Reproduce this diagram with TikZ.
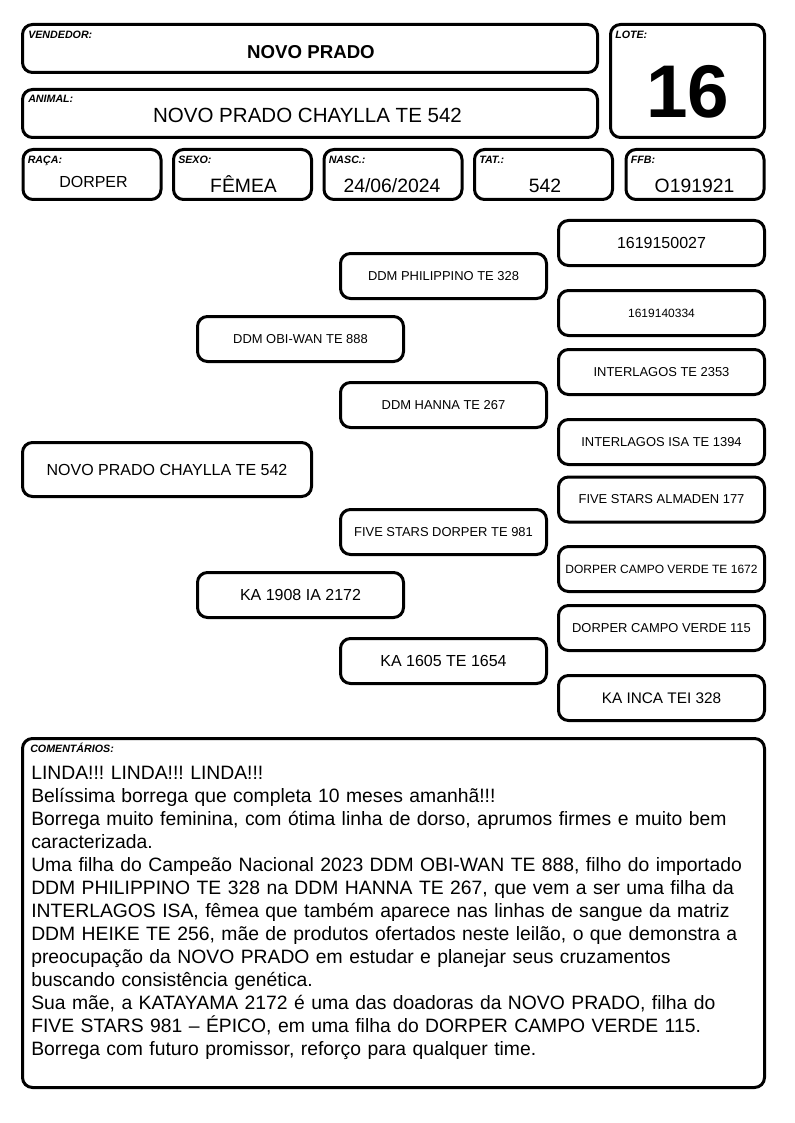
\documentclass[tikz,border=0pt]{standalone}
\usepackage{fontspec}
\setmainfont{Liberation Sans}
\usetikzlibrary{positioning}

\tikzset{
  box/.style={draw, line width=2.25pt, rounded corners=7.5pt, inner sep=0pt, align=center},
  tag/.style={anchor=base west, inner sep=0pt, font=\fontsize{8}{9}\selectfont\bfseries\itshape},
  val/.style={anchor=base, inner sep=0pt, font=\fontsize{14.5}{16}\selectfont},
  hbox/.style={box, minimum width=431.25pt, minimum height=36pt},
  cell/.style={box, minimum width=103.5pt, minimum height=37.5pt},
  ped/.style={box, minimum width=154.5pt, minimum height=33.75pt, font=\fontsize{9.7}{11}\selectfont},
  pedbig/.style={ped, font=\fontsize{12}{14}\selectfont}
}

\begin{document}
\frenchspacing
\begin{tikzpicture}[x=0.75pt, y=-0.75pt]
    \useasboundingbox (0,0) rectangle (794,1123);

    % header
    \node[hbox] (vend) at (310,48.5) {};
    \node[hbox] (anim) at (310,113.5) {};
    \node[box, minimum width=115.5pt, minimum height=84.75pt] (lote) at (687.5,81) {};
    \node[tag] (vendt) at (28,39) {VENDEDOR:};
    \node[tag] (animt) at (28,103) {ANIMAL:};
    \node[tag] (lotet) at (615,39) {LOTE:};
    \node[val, font=\fontsize{14}{16}\selectfont\bfseries] (vendv) at (311,59) {NOVO PRADO};
    \node[val, font=\fontsize{15.4}{18}\selectfont] (animv) at (307.5,123) {NOVO PRADO CHAYLLA TE 542};
    \node[val, font=\fontsize{56}{60}\selectfont\bfseries] (lotev) at (688,118) {16};

    % second row
    \foreach \n/\cx/\t/\v/\vx/\vy/\s in {raca/92/RAÇA:/DORPER/93.5/188/12, sexo/242.5/SEXO:/FÊMEA/243.5/193/14.5,
        nasc/393/NASC.:/24\slash 06\slash 2024/392/193/14.5, tat/543.5/TAT.:/542/545/193/14.5,
        ffb/695/FFB:/O191921/694.5/193/14.5} {
      \node[cell] (\n) at (\cx,174.5) {};
      \node[tag] (\n t) at ([xshift=4.5pt, yshift=-11.5pt]\n.north west) {\t};
      \node[val, font=\fontsize{\s}{16}\selectfont] (\n v) at (\vx,\vy) {\v};
    }

    % pedigree
    \node[box, minimum width=216.75pt, minimum height=40.5pt, font=\fontsize{12}{14}\selectfont] (p0) at (167,469.5) {NOVO PRADO CHAYLLA TE 542};

    \node[ped] (p1) at (300.5,339) {DDM OBI-WAN TE 888};
    \node[pedbig] (p2) at (300.5,595) {KA 1908 IA 2172};

    \node[ped] (p11) at (443.5,276) {DDM PHILIPPINO TE 328};
    \node[ped] (p12) at (443.5,405) {DDM HANNA TE 267};
    \node[ped] (p21) at (443.5,532) {FIVE STARS DORPER TE 981};
    \node[pedbig] (p22) at (443.5,661) {KA 1605 TE 1654};

    \node[pedbig] (p111) at (661.5,243) {1619150027};
    \node[ped, font=\fontsize{9}{11}\selectfont] (p112) at (661.5,313) {1619140334};
    \node[ped] (p121) at (661.5,372) {INTERLAGOS TE 2353};
    \node[ped] (p122) at (661.5,442) {INTERLAGOS ISA TE 1394};
    \node[ped] (p211) at (661.5,499.5) {FIVE STARS ALMADEN 177};
    \node[ped, font=\fontsize{9}{11}\selectfont] (p212) at (661.5,569) {DORPER CAMPO VERDE TE 1672};
    \node[ped] (p221) at (661.5,628) {DORPER CAMPO VERDE 115};
    \node[ped, font=\fontsize{11.5}{13}\selectfont] (p222) at (661.5,698) {KA INCA TEI 328};

    % comments
    \node[box, minimum width=556.5pt, minimum height=261.75pt] (coment) at (393.5,913) {};
    \node[tag] (comentt) at (30,752) {COMENTÁRIOS:};
    \node[anchor=north west, inner sep=0pt, text width=550pt, align=left,
          font=\fontsize{14.5}{17.25}\selectfont] (comentv) at (31,766) {%
      LINDA!!! LINDA!!! LINDA!!!\\
      Belíssima borrega que completa 10 meses amanhã!!!\\
      Borrega muito feminina, com ótima linha de dorso, aprumos firmes e muito bem\\
      caracterizada.\\
      Uma filha do Campeão Nacional 2023 DDM OBI-WAN TE 888, filho do importado\\
      DDM PHILIPPINO TE 328 na DDM HANNA TE 267, que vem a ser uma filha da\\
      INTERLAGOS ISA, fêmea que também aparece nas linhas de sangue da matriz\\
      DDM HEIKE TE 256, mãe de produtos ofertados neste leilão, o que demonstra a\\
      preocupação da NOVO PRADO em estudar e planejar seus cruzamentos\\
      buscando consistência genética.\\
      Sua mãe, a KATAYAMA 2172 é uma das doadoras da NOVO PRADO, filha do\\
      FIVE STARS 981 – ÉPICO, em uma filha do DORPER CAMPO VERDE 115.\\
      Borrega com futuro promissor, reforço para qualquer time.};
\end{tikzpicture}
\end{document}
